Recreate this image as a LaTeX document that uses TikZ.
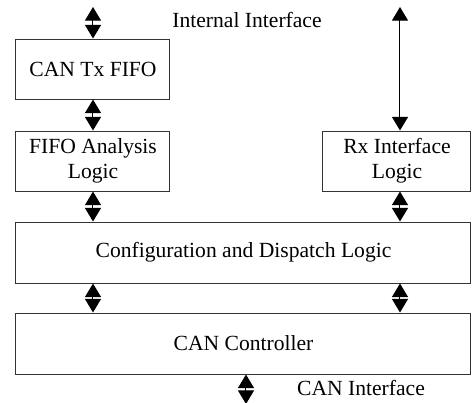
\documentclass[tikz,border=0pt]{standalone}
\usepackage{fontspec}
\setmainfont{Liberation Serif}
\usetikzlibrary{arrows.meta}
\begin{document}
\begin{tikzpicture}[x=0.5pt,y=-0.5pt,font=\fontsize{10.8}{12.5}\selectfont]
        \tikzset{blk/.style={draw=black!80, line width=0.5pt, inner sep=0pt, align=center},
                 dbl/.style={{Triangle[width=8pt,length=6.8pt]}-{Triangle[width=8pt,length=6.8pt]}, line width=0.5pt}}
        \useasboundingbox (0,0) rectangle (473,403);
        \node[blk, minimum width=154*0.5pt, minimum height=60*0.5pt] (txfifo) at (93,69) {CAN Tx FIFO};
        \node[blk, minimum width=154*0.5pt, minimum height=60*0.5pt] (fifoan) at (93,161) {FIFO Analysis\\Logic};
        \node[blk, minimum width=148*0.5pt, minimum height=60*0.5pt] (rxif) at (397,161) {Rx Interface\\Logic};
        \node[blk, minimum width=455*0.5pt, minimum height=61*0.5pt] (config) at (243.5,252.5) {Configuration and Dispatch Logic};
        \node[blk, minimum width=455*0.5pt, minimum height=61*0.5pt] (canctrl) at (243.5,343.5) {CAN Controller};
        \node (intif) at (247,20) {Internal Interface};
        \node (canif) at (361,388) {CAN Interface};
        \coordinate (toptx) at (93,7);
        \coordinate (toprx) at (400,7);
        \coordinate (botcan) at (246,404);
        \draw[dbl] (toptx) -- (txfifo.north);
        \draw[dbl] (txfifo.south) -- (fifoan.north);
        \draw[dbl] (toprx) -- (rxif.north -| toprx);
        \draw[dbl] (fifoan.south) -- (config.north -| fifoan);
        \draw[dbl] (rxif.south -| toprx) -- (config.north -| toprx);
        \draw[dbl] (config.south -| fifoan) -- (canctrl.north -| fifoan);
        \draw[dbl] (config.south -| toprx) -- (canctrl.north -| toprx);
        \draw[dbl] (canctrl.south -| botcan) -- (botcan);
    \end{tikzpicture}
\end{document}
